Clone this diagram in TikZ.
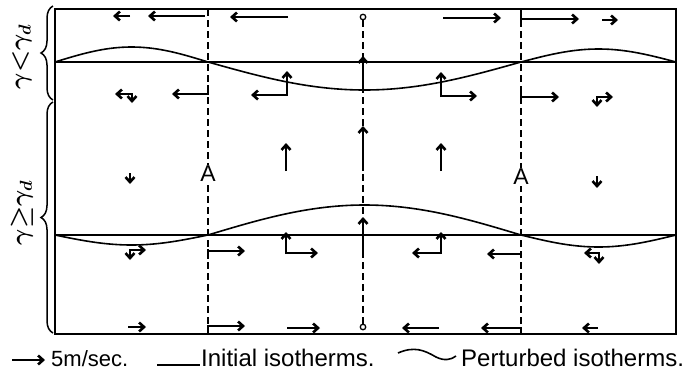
\documentclass[tikz,border=0pt]{standalone}
\usepackage{fontspec}
\setmainfont{Liberation Sans}
\usetikzlibrary{arrows.meta,decorations.pathreplacing}
\begin{document}
\begin{tikzpicture}[x=1pt,y=-1pt,
  vec/.style={line width=2.6pt,-{Straight Barb[length=5pt,width=9pt]}},
  frame/.style={line width=2.1pt},
  iso/.style={line width=1.6pt},
  guide/.style={line width=1.6pt,dash pattern=on 7pt off 4pt},
  tick/.style={line width=2pt},
  lbl/.style={font=\fontsize{23}{26}\selectfont,fill=white,inner sep=1pt},
  leg/.style={font=\fontsize{24}{28}\selectfont,anchor=base west,inner sep=0pt},
  brc/.style={line width=1.5pt,decorate,decoration={brace,amplitude=12pt}},
  gam/.style={rotate=90,font=\fontsize{23}{27}\selectfont\boldmath},
  dot/.style={circle,draw,line width=1.3pt,inner sep=0pt,minimum size=5.5pt,fill=white}]
\useasboundingbox (0,0) rectangle (690,370);

% frame
\draw[frame] (55,9) rectangle (676,334);

% guide (dashed) lines
\coordinate (lt) at (208,9);  \coordinate (lb) at (208,334);
\coordinate (rt) at (521,9);  \coordinate (rb) at (521,334);
\draw[guide] (lt) -- (lb);
\draw[guide] (rt) -- (rb);
\node[dot] (ctop) at (363,17) {};
\node[dot] (cbot) at (363,327) {};
\draw[guide] (ctop) -- (cbot);

% solid bits of the guide lines at vector origins
\draw[tick] (208,85) -- (208,95);
\draw[tick] (521,10) -- (521,20);
\draw[tick] (521,90) -- (521,98);
\draw[tick] (208,249) -- (208,259);
\draw[tick] (208,325) -- (208,333);
\draw[tick] (521,251) -- (521,258);
\draw[tick] (521,327) -- (521,333);

% initial isotherms
\draw[iso] (55,62) -- (676,62);
\draw[iso] (55,235) -- (676,235);

% perturbed isotherms
\draw[iso] plot[domain=55:208,samples=40,smooth] (\x,{62-15*sin((\x-55)/153*180)})
  -- plot[domain=208:521,samples=60,smooth] (\x,{62+28*sin((\x-208)/313*180)})
  -- plot[domain=521:676,samples=40,smooth] (\x,{62-13*sin((\x-521)/155*180)});
\draw[iso] plot[domain=55:208,samples=40,smooth] (\x,{235+10*sin((\x-55)/153*180)})
  -- plot[domain=208:521,samples=60,smooth] (\x,{235-30*sin((\x-208)/313*180)})
  -- plot[domain=521:676,samples=40,smooth] (\x,{235+12*sin((\x-521)/155*180)});

% top row
\draw[vec] (130,16) -- (113,16);
\draw[vec] (205,16) -- (148,16);
\draw[vec] (288,17) -- (230,17);
\draw[vec] (443,18) -- (501,18);
\draw[vec] (521,19) -- (579,19);
\draw[vec] (602,20) -- (618,20);

% upper row
\draw[vec] (132,94) -- (115,94);
\draw[vec] (132,93) -- (132,103);
\draw[vec] (208,94) -- (172,94);
\draw[vec] (287,95) -- (251,95);
\draw[vec] (287,96) -- (287,71);
\draw[vec] (363,90) -- (363,56);
\draw[vec] (441,96) -- (477,96);
\draw[vec] (441,97) -- (441,72);
\draw[vec] (521,97) -- (559,97);
\draw[vec] (597,97) -- (613,97);
\draw[vec] (597,96) -- (597,107);

% middle
\draw[vec] (130,173) -- (130,184);
\draw[vec] (286,171) -- (286,143);
\draw[vec] (363,171) -- (363,126);
\draw[vec] (441,171) -- (441,143);
\draw[vec] (597,176) -- (597,188);
\node[lbl] (A1) at (208,174) {A};
\node[lbl] (A2) at (521,177) {A};

% lower row
\draw[vec] (130,250) -- (146,250);
\draw[vec] (130,249) -- (130,260);
\draw[vec] (208,251) -- (245,251);
\draw[vec] (286,253) -- (318,253);
\draw[vec] (286,254) -- (286,232);
\draw[vec] (363,251) -- (363,217);
\draw[vec] (441,253) -- (412,253);
\draw[vec] (441,254) -- (441,232);
\draw[vec] (521,254) -- (487,254);
\draw[vec] (599,253) -- (584,253);
\draw[vec] (599,252) -- (599,264);

% bottom row
\draw[vec] (128,327) -- (146,327);
\draw[vec] (208,326) -- (245,326);
\draw[vec] (287,328) -- (320,328);
\draw[vec] (439,328) -- (402,328);
\draw[vec] (521,328) -- (481,328);
\draw[vec] (598,328) -- (582,328);

% braces and labels
\draw[brc] (53,100) -- (53,6);
\draw[brc] (53,333) -- (53,102);
\node[gam] (g1) at (22,57) {$\gamma\mathord{<}\gamma_d$};
\node[gam] (g2) at (22,213) {$\gamma\mathord{\geq}\gamma_d$};

% legend
\coordinate (la) at (12,360); \coordinate (lb2) at (45,360);
\draw[vec] (la) -- (lb2);
\node[leg,font=\fontsize{22}{26}\selectfont] (t1) at (51,366) {5m/sec.};
\coordinate (li1) at (157,365); \coordinate (li2) at (200,365);
\draw[iso] (li1) -- (li2);
\node[leg] (t2) at (201,366) {Initial isotherms.};
\coordinate (lp1) at (398,353); \coordinate (lp2) at (456,356);
\draw[iso] (lp1) .. controls (414,346) and (424,350) .. (436,357) .. controls (444,361) and (451,360) .. (lp2);
\node[leg] (t3) at (461,366) {Perturbed isotherms.};
\end{tikzpicture}
\end{document}
